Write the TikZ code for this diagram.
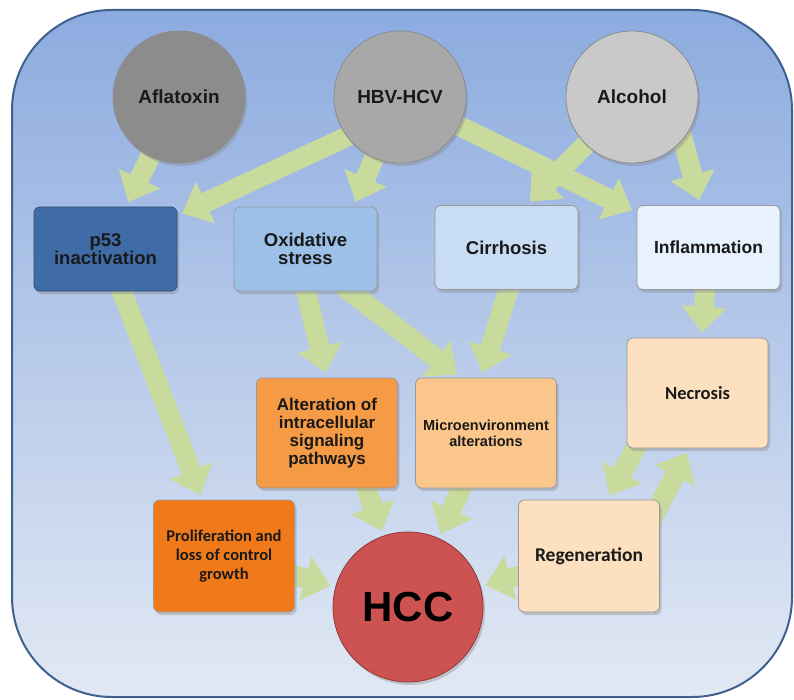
\documentclass[tikz,border=0pt]{standalone}
\usepackage{fontspec}
\setmainfont{Liberation Sans}
\newfontfamily\calib{Carlito}
\usetikzlibrary{arrows.meta,shadows,calc}
\pgfdeclarelayer{bgl}
\pgfdeclarelayer{arl}
\pgfsetlayers{bgl,arl,main}
\definecolor{bgtop}{HTML}{8CABDF}
\definecolor{bgbot}{HTML}{E2E9F4}
\definecolor{bordercol}{HTML}{3F6190}
\definecolor{agreen}{HTML}{C8DB9D}
\definecolor{cafla}{HTML}{8C8C8C}
\definecolor{chbv}{HTML}{A8A8A8}
\definecolor{calc}{HTML}{C9C9C9}
\definecolor{chcc}{HTML}{CD5252}
\definecolor{cp53}{HTML}{3F6CA6}
\definecolor{cox}{HTML}{9DC0E8}
\definecolor{ccirr}{HTML}{C8DCF4}
\definecolor{cinfl}{HTML}{E8F2FC}
\definecolor{calt}{HTML}{F59A45}
\definecolor{cmicro}{HTML}{FBC68C}
\definecolor{cprolif}{HTML}{F07A1A}
\definecolor{cpeach}{HTML}{FDE0C0}
\begin{document}
\begin{tikzpicture}[x=1pt,y=-1pt,
  circnode/.style={circle, minimum size=132pt, inner sep=0pt, draw=black!45, line width=0.8pt,
    font=\bfseries\fontsize{19}{21}\selectfont, text=black!90,
    drop shadow={shadow xshift=2pt, shadow yshift=-3pt, opacity=0.35}},
  boxnode/.style={rectangle, rounded corners=6pt, minimum width=143pt, minimum height=84pt,
    inner sep=2pt, draw=black!40, line width=0.8pt, align=center, text=black!90,
    font=\bfseries\fontsize{18.5}{18}\selectfont,
    drop shadow={shadow xshift=2pt, shadow yshift=-3pt, opacity=0.35}},
  tallbox/.style={boxnode, minimum width=141pt, minimum height=110pt},
  garrow/.style={line width=20pt, draw=agreen, -{Triangle[width=44pt,length=26pt]}, shorten >=5pt}
]
\useasboundingbox (0,0) rectangle (794,700);
\begin{pgfonlayer}{bgl}
\draw[draw=bordercol, line width=2pt, top color=bgtop, bottom color=bgbot, rounded corners=100pt]
  (12,10) rectangle (792,697);
\end{pgfonlayer}

% sources
\node[circnode, fill=cafla] (afla) at (179,97) {Aflatoxin};
\node[circnode, fill=chbv] (hbv) at (400,97) {HBV-HCV};
\node[circnode, fill=calc] (alc) at (632,97) {Alcohol};

% second row
\node[boxnode, fill=cp53, draw=cp53!70!black] (p53) at (105.5,249) {p53\\inactivation};
\node[boxnode, fill=cox] (ox) at (305.5,249) {Oxidative\\stress};
\node[boxnode, fill=ccirr] (cirr) at (506.5,247.5) {Cirrhosis};
\node[boxnode, fill=cinfl, font=\bfseries\fontsize{17.5}{18}\selectfont] (infl) at (708.5,247.5) {Inflammation};

% third row
\node[tallbox, fill=cpeach, font=\calib\bfseries\fontsize{18.5}{20}\selectfont] (necr) at (697.5,393) {Necrosis};
\node[tallbox, fill=calt, font=\bfseries\fontsize{17}{18}\selectfont] (alt) at (327,433)
  {Alteration of\\intracellular\\signaling\\pathways};
\node[tallbox, fill=cmicro, font=\bfseries\fontsize{14.5}{16}\selectfont] (micro) at (486,433)
  {Microenvironment\\alterations};

% bottom row
\node[tallbox, minimum height=112pt, fill=cprolif, font=\calib\bfseries\fontsize{16.5}{19}\selectfont] (prolif) at (224,556)
  {Proliferation and\\loss of control\\growth};
\node[tallbox, minimum height=112pt, fill=cpeach, font=\calib\bfseries\fontsize{19.5}{21}\selectfont] (regen) at (589,556)
  {Regeneration};
\node[circle, minimum size=150pt, inner sep=0pt, fill=chcc, draw=chcc!70!black, line width=0.8pt,
  font=\bfseries\fontsize{42}{44}\selectfont, text=black,
  drop shadow={shadow xshift=2pt, shadow yshift=-3pt, opacity=0.35}] (hcc) at (408,607) {HCC};

% arrows
\begin{pgfonlayer}{arl}
\draw[garrow] (afla.center) -- (p53);
\draw[garrow] ([yshift=-15pt]hbv.center) -- (p53);
\draw[garrow] (hbv.center) -- ([xshift=48pt]ox.north);
\draw[garrow] (hbv.center) -- (infl);
\draw[garrow] (alc.center) -- ([xshift=20pt]cirr.north);
\draw[garrow, shorten <=-20pt] (alc.320) -- ([xshift=-8pt]infl.north);
\draw[garrow] (p53.center) -- (prolif);
\draw[garrow] ([xshift=-10pt]ox.center) -- (alt.north);
\draw[garrow] ([xshift=-10pt]ox.center) -- ([xshift=-25pt]micro.north);
\draw[garrow] ([xshift=15pt]cirr.center) -- ([xshift=-5pt]micro.north);
\draw[garrow] (infl.center) -- (necr);
\draw[garrow] ([xshift=20pt]alt.center) -- (hcc);
\draw[garrow] (micro.center) -- (hcc);
\draw[garrow] ([xshift=-31pt]necr.center) -- ([xshift=18pt]regen.north);
\draw[garrow] ([xshift=43pt]regen.center) -- ([xshift=-8pt]necr.south);
\draw[garrow] (prolif.center) -- (hcc);
\draw[garrow] (regen.center) -- (hcc);
\end{pgfonlayer}
\end{tikzpicture}
\end{document}
